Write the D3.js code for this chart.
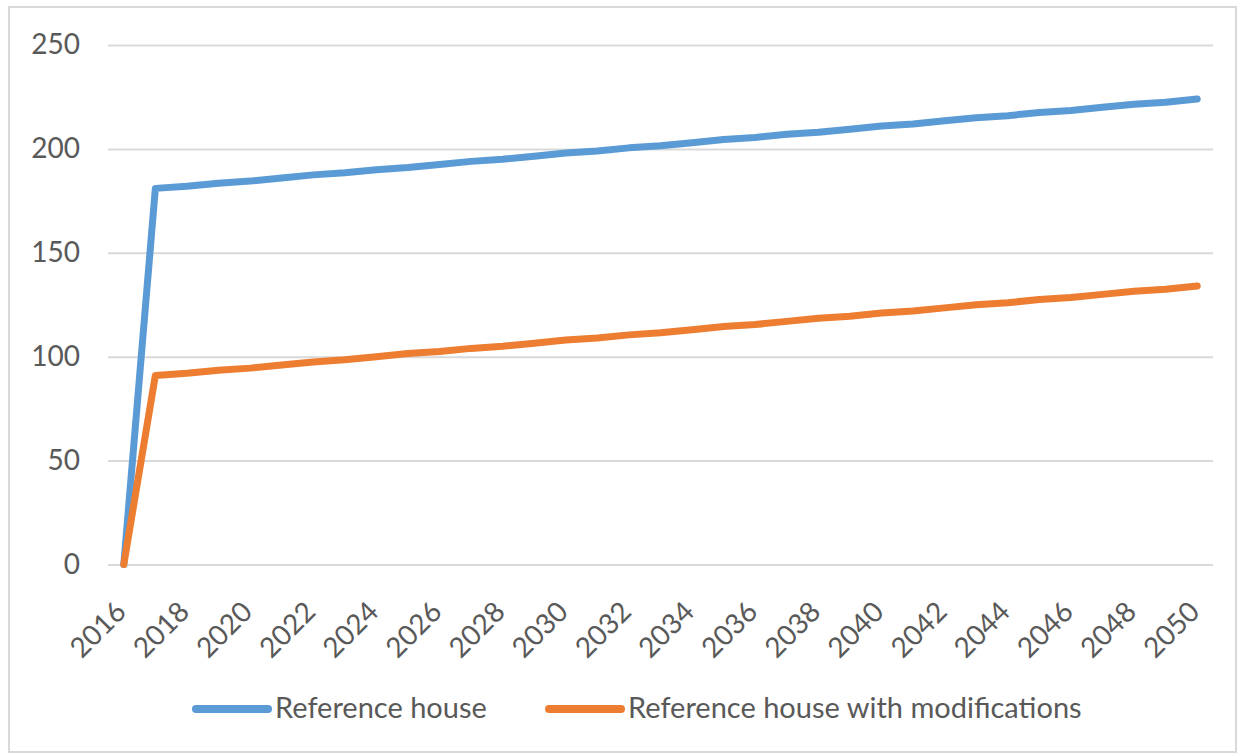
<!DOCTYPE html>
<html>
<head>
<meta charset="utf-8">
<script src="https://cdn.jsdelivr.net/npm/d3@7"></script>
<style>
  body { margin: 0; background: #fff; }
  text { font-family: Lato, "Open Sans", sans-serif; fill: #595959; }
</style>
</head>
<body>
<div id="grafica"></div>
<script>
// data
var years = d3.range(2016, 2051);
var yTicks = [0, 50, 100, 150, 200, 250];
var xTickYears = d3.range(2016, 2051, 2);
var seriesNames = ["Reference house", "Reference house with modifications"];
var seriesColors = ["#5b9bd5", "#ed7d31"];
var referenceHouse = [0, 181, 182, 183.5, 184.5, 186, 187.5, 188.5, 190, 191,
  192.5, 194, 195, 196.5, 198, 199, 200.5, 201.5, 203, 204.5,
  205.5, 207, 208, 209.5, 211, 212, 213.5, 215, 216, 217.5,
  218.5, 220, 221.5, 222.5, 224];
var referenceModified = [0, 91, 92, 93.5, 94.5, 96, 97.5, 98.5, 100, 101.5,
  102.5, 104, 105, 106.5, 108, 109, 110.5, 111.5, 113, 114.5,
  115.5, 117, 118.5, 119.5, 121, 122, 123.5, 125, 126, 127.5,
  128.5, 130, 131.5, 132.5, 134];

var W = 1245, H = 756;
var margin = {top: 45, right: 32, bottom: 191.5, left: 108},
    width = W - margin.left - margin.right,
    height = H - margin.top - margin.bottom;

var svg0 = d3.select("#grafica").append("svg")
    .attr("width", W)
    .attr("height", H);

// chart border
svg0.append("rect")
  .attr("x", 9).attr("y", 7)
  .attr("width", 1227).attr("height", 745)
  .attr("fill", "none")
  .attr("stroke", "#d9d9d9")
  .attr("stroke-width", 2);

var svg = svg0.append("g")
  .attr("transform", "translate(" + margin.left + "," + margin.top + ")");

var x = d3.scalePoint()
  .domain(years)
  .range([0, width])
  .padding(0.5);

var y = d3.scaleLinear()
  .domain([0, 250])
  .range([height, 0]);

// gridlines
svg.append("g")
  .attr("class", "grid")
  .call(d3.axisLeft(y).tickValues(yTicks).tickSize(-width).tickFormat(""))
  .call(function(g) { g.select(".domain").remove(); })
  .selectAll("line")
  .attr("stroke", "#d9d9d9")
  .attr("stroke-width", 2);

// y labels
var yAxis = svg.append("g")
  .call(d3.axisLeft(y).tickValues(yTicks).tickSize(0).tickPadding(28));
yAxis.select(".domain").remove();
yAxis.selectAll("text")
  .style("font-size", "28px")
  .style("font-family", "Lato, sans-serif")
  .attr("fill", "#595959");

// x labels, rotated
svg.append("g")
  .selectAll("text")
  .data(xTickYears)
  .enter().append("text")
  .attr("transform", function(d) {
    return "translate(" + (x(d) + 4) + "," + (height + 49) + ") rotate(-45)";
  })
  .attr("text-anchor", "end")
  .style("font-size", "28px")
  .text(function(d) { return d; });

// lines
var line = d3.line()
  .x(function(d, i) { return x(years[i]); })
  .y(function(d) { return y(d); });

[referenceHouse, referenceModified].forEach(function(s, i) {
  svg.append("path")
    .datum(s)
    .attr("fill", "none")
    .attr("stroke", seriesColors[i])
    .attr("stroke-width", 7)
    .attr("stroke-linejoin", "round")
    .attr("stroke-linecap", "round")
    .attr("d", line);
});

// legend
var legX = [196, 549];
seriesNames.forEach(function(n, i) {
  svg0.append("line")
    .attr("x1", legX[i]).attr("x2", legX[i] + 72)
    .attr("y1", 709).attr("y2", 709)
    .attr("stroke", seriesColors[i])
    .attr("stroke-width", 8)
    .attr("stroke-linecap", "round");
  svg0.append("text")
    .attr("x", legX[i] + 79)
    .attr("y", 718)
    .style("font-size", "29px")
    .text(n);
});
</script>
</body>
</html>
